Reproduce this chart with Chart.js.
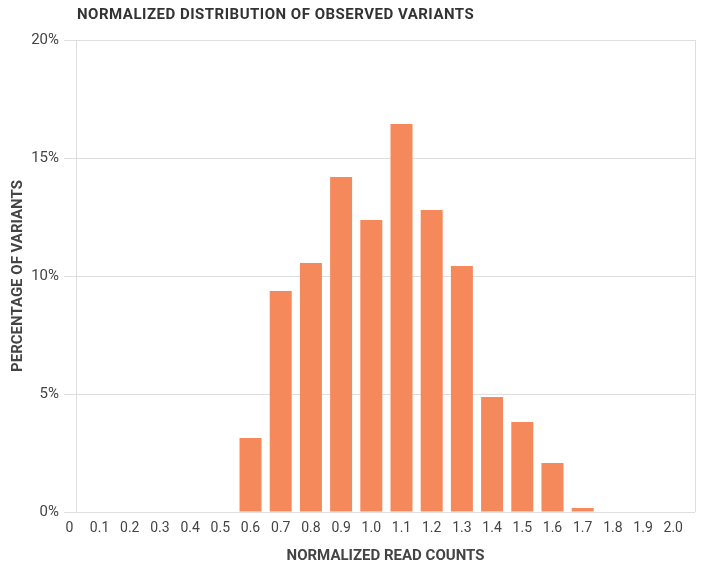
<!DOCTYPE html>
<html>
<head>
<meta charset="utf-8">
<script src="https://cdn.jsdelivr.net/npm/chart.js@4"></script>
<style>
  html, body { margin: 0; padding: 0; background: #fff; }
  #wrap { position: relative; width: 701px; height: 565px; }
  #title {
    position: absolute; left: 77px; top: 5px;
    font: bold 15px Roboto, sans-serif; color: #333;
    letter-spacing: 0.5px;
  }
</style>
</head>
<body>
<div id="wrap">
  <div id="title">NORMALIZED DISTRIBUTION OF OBSERVED VARIANTS</div>
  <canvas id="chart" width="701" height="565"></canvas>
</div>
<script>
// read counts (bins) and share of variants per bin, in %
const readCounts = [0, 0.1, 0.2, 0.3, 0.4, 0.5, 0.6, 0.7, 0.8, 0.9, 1.0,
                    1.1, 1.2, 1.3, 1.4, 1.5, 1.6, 1.7, 1.8, 1.9, 2.0];
const pctVariants = [0, 0, 0, 0, 0, 0, 3.14, 9.36, 10.55, 14.2, 12.37,
                     16.44, 12.8, 10.42, 4.87, 3.81, 2.08, 0.17, 0, 0, 0];
const yTicks = [0, 5, 10, 15, 20];

const COLORS = {
  bar:  '#f5895c',
  grid: '#dedede',
  tick: '#444',
  axisTitle: '#444',
};

// borde dret del requadre del gràfic
const rightBorder = {
  id: 'rightBorder',
  afterDraw(chart) {
    const { ctx, chartArea } = chart;
    ctx.save();
    ctx.strokeStyle = COLORS.grid;
    ctx.lineWidth = 1;
    ctx.beginPath();
    ctx.moveTo(chartArea.right + 0.5, chartArea.top);
    ctx.lineTo(chartArea.right + 0.5, chartArea.bottom);
    ctx.stroke();
    ctx.restore();
  }
};

Chart.defaults.font.family = "Roboto, sans-serif";

new Chart(document.getElementById('chart'), {
  type: 'bar',
  data: {
    datasets: [{
      data: readCounts.map((x, i) => ({ x, y: pctVariants[i] })),
      backgroundColor: COLORS.bar,
      borderWidth: 0,
      inflateAmount: 0,
      barThickness: 22,
    }]
  },
  options: {
    responsive: false,
    animation: false,
    layout: { padding: { top: 40, right: 6, left: 0, bottom: 0 } },
    plugins: { legend: { display: false }, tooltip: { enabled: false } },
    scales: {
      x: {
        type: 'linear',
        offset: false,
        min: 0.022,
        max: 2.072,
        afterBuildTicks: axis => { axis.ticks = readCounts.map(v => ({ value: v })); },
        afterFit: axis => { axis.height = 53; },
        grid: { display: false },
        border: { display: false },
        ticks: {
          autoSkip: false,
          maxRotation: 0,
          padding: 0,
          color: COLORS.tick,
          font: { size: 14 },
          callback: v => v === 0 ? '0' : v.toFixed(1),
        },
        title: {
          display: true,
          text: 'NORMALIZED READ COUNTS',
          color: COLORS.axisTitle,
          font: { size: 15, weight: 'bold' },
          padding: { top: 6, bottom: 0 },
        }
      },
      y: {
        min: 0,
        max: 20,
        afterBuildTicks: axis => { axis.ticks = yTicks.map(v => ({ value: v })); },
        afterFit: axis => { axis.width = 76; },
        grid: { color: COLORS.grid, tickLength: 12, lineWidth: 1 },
        border: { color: COLORS.grid },
        ticks: {
          padding: 5,
          color: COLORS.tick,
          font: { size: 15 },
          callback: v => v + '%',
        },
        title: {
          display: true,
          text: 'PERCENTAGE OF VARIANTS',
          color: COLORS.axisTitle,
          font: { size: 15, weight: 'bold' },
          padding: { top: 9, bottom: 0 },
        }
      }
    }
  },
  plugins: [rightBorder]
});
</script>
</body>
</html>
